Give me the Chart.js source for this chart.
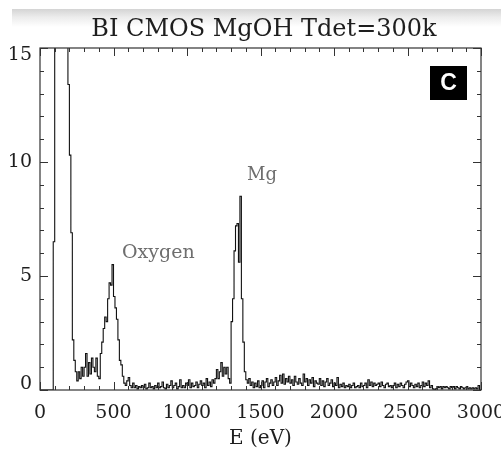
<!DOCTYPE html>
<html>
<head>
<meta charset="utf-8">
<script src="https://cdn.jsdelivr.net/npm/chart.js@4/dist/chart.umd.min.js"></script>
<style>
  html, body { margin: 0; padding: 0; background: #fff; }
  #chart { display: block; }
</style>
</head>
<body>
<canvas id="chart" width="501" height="451"></canvas>
<script>
// spectrum: counts per 10 eV bin, bin starts at 0, 10, 20 ... 2990 eV
const BIN_EV = 10;
const counts = [
  0, 0, 0, 0, 0, 0, 0, 0, 0, 6.5,                       // 0-90
  60, 60, 60, 60, 60, 60, 60, 60, 60, 13.4,             // 100-190
  10.3, 6.9, 2.2, 1.3, 0.8, 0.4, 0.8, 0.5, 1.0, 0.6,    // 200-290
  1.0, 1.6, 0.6, 1.2, 0.7, 1.4, 1.0, 0.8, 1.4, 0.6,     // 300-390
  0.5, 1.6, 2.1, 2.7, 3.2, 3.0, 4.0, 4.7, 4.6, 5.5,     // 400-490
  4.1, 3.6, 3.1, 2.2, 1.3, 1.1, 0.6, 0.3, 0.2, 0.4,     // 500-590
  0.55, 0.2, 0.1, 0.3, 0.1, 0.2, 0.05, 0.15, 0.1, 0.2,  // 600-690
  0.1, 0.25, 0.05, 0.1, 0.3, 0.1, 0.15, 0.05, 0.2, 0.1, // 700-790
  0.3, 0.1, 0.15, 0.35, 0.1, 0.05, 0.25, 0.1, 0.2, 0.4, // 800-890
  0.1, 0.2, 0.3, 0.05, 0.15, 0.45, 0.1, 0.2, 0.1, 0.3,  // 900-990
  0.2, 0.45, 0.1, 0.3, 0.15, 0.2, 0.35, 0.1, 0.25, 0.4, // 1000-1090
  0.2, 0.3, 0.1, 0.5, 0.2, 0.35, 0.15, 0.45, 0.3, 0.5,  // 1100-1190
  0.9, 0.5, 0.8, 1.2, 0.6, 1.0, 0.7, 1.0, 0.5, 0.3,     // 1200-1290
  3.0, 4.0, 6.1, 7.2, 7.3, 5.6, 8.5, 4.0, 2.1, 0.8,     // 1300-1390
  0.45, 0.3, 0.5, 0.2, 0.35, 0.1, 0.3, 0.15, 0.4, 0.1,  // 1400-1490
  0.2, 0.4, 0.1, 0.35, 0.5, 0.15, 0.3, 0.45, 0.2, 0.35, // 1500-1590
  0.55, 0.2, 0.4, 0.65, 0.3, 0.7, 0.25, 0.5, 0.35, 0.6, // 1600-1690
  0.3, 0.45, 0.2, 0.6, 0.35, 0.25, 0.5, 0.3, 0.2, 0.7,  // 1700-1790
  0.35, 0.5, 0.2, 0.45, 0.3, 0.55, 0.15, 0.4, 0.3, 0.25,// 1800-1890
  0.5, 0.2, 0.4, 0.15, 0.35, 0.5, 0.2, 0.3, 0.45, 0.15, // 1900-1990
  0.3, 0.2, 0.55, 0.1, 0.25, 0.15, 0.3, 0.1, 0.2, 0.15, // 2000-2090
  0.25, 0.1, 0.2, 0.3, 0.1, 0.15, 0.2, 0.1, 0.3, 0.15,  // 2100-2190
  0.2, 0.3, 0.1, 0.45, 0.2, 0.35, 0.15, 0.3, 0.2, 0.25, // 2200-2290
  0.3, 0.15, 0.35, 0.2, 0.1, 0.25, 0.3, 0.15, 0.2, 0.1, // 2300-2390
  0.2, 0.3, 0.1, 0.25, 0.15, 0.3, 0.2, 0.1, 0.25, 0.35, // 2400-2490
  0.4, 0.15, 0.3, 0.2, 0.1, 0.25, 0.15, 0.3, 0.1, 0.2,  // 2500-2590
  0.35, 0.15, 0.3, 0.2, 0.4, 0.1, 0.2, 0.05, 0, 0.05,   // 2600-2690
  0.15, 0.1, 0.15, 0.05, 0.15, 0.1, 0.15, 0.1, 0.05, 0.15, // 2700-2790
  0.1, 0.15, 0.05, 0.15, 0.1, 0.05, 0.15, 0.1, 0.05, 0.1,  // 2800-2890
  0.15, 0.05, 0.1, 0.05, 0.1, 0.05, 0.1, 0.05, 0.2, 0      // 2900-2990
];

const xRange = [0, 3000];
const yRange = [0, 15];
const xTickStep = 500, xMinorStep = 100;
const yTickLabels = [0, 5, 10, 15];
const yTickStep = 5, yMinorStep = 1;

const titleText = "BI CMOS MgOH Tdet=300k";
const xTitle = "E (eV)";

const peakLabels = ["Oxygen", "Mg"];
const peakAnchorE = [558, 1408];    // eV, left edge of text
const peakAnchorY = [5.8, 9.2];     // counts, text baseline

const panelTag = "C";

// step histogram points (one extra point closes the last bin)
const points = counts.map(function (c, i) { return { x: i * BIN_EV, y: c }; });
points.push({ x: counts.length * BIN_EV, y: counts[counts.length - 1] });

const SERIF = "'DejaVu Serif', 'Liberation Serif', serif";
const INK = "#1e1e1e";

const decor = {
    id: "decor",
    beforeDraw: function (chart) {
        const ctx = chart.ctx;
        const g = ctx.createLinearGradient(0, 9, 0, 27);
        g.addColorStop(0, "#d4d4d4");
        g.addColorStop(0.45, "#ececec");
        g.addColorStop(1, "#ffffff");
        ctx.save();
        ctx.fillStyle = g;
        ctx.fillRect(12, 9, chart.width - 12, 18);

        // title
        ctx.fillStyle = INK;
        ctx.font = "24px " + SERIF;
        ctx.textAlign = "center";
        ctx.textBaseline = "alphabetic";
        ctx.fillText(titleText, 264, 36);
        ctx.restore();
    },
    afterDraw: function (chart) {
        const ctx = chart.ctx;
        const a = chart.chartArea;
        const xs = chart.scales.x, ys = chart.scales.y;
        ctx.save();
        ctx.strokeStyle = "#333";
        ctx.lineWidth = 1.2;
        ctx.strokeRect(a.left, a.top, a.right - a.left, a.bottom - a.top);

        ctx.lineWidth = 1;
        ctx.beginPath();
        for (let v = xRange[0]; v <= xRange[1]; v += xMinorStep) {
            const px = Math.round(xs.getPixelForValue(v)) + 0.5;
            const len = v % xTickStep === 0 ? 8 : 4;
            ctx.moveTo(px, a.bottom); ctx.lineTo(px, a.bottom - len);
            ctx.moveTo(px, a.top); ctx.lineTo(px, a.top + len);
        }
        for (let v = yRange[0]; v <= yRange[1]; v += yMinorStep) {
            const py = Math.round(ys.getPixelForValue(v)) + 0.5;
            const len = v % yTickStep === 0 ? 8 : 4;
            ctx.moveTo(a.left, py); ctx.lineTo(a.left + len, py);
            ctx.moveTo(a.right, py); ctx.lineTo(a.right - len, py);
        }
        ctx.stroke();

        // y tick labels, kept inside the frame height like the original
        ctx.fillStyle = INK;
        ctx.font = "19px " + SERIF;
        ctx.textAlign = "right";
        ctx.textBaseline = "middle";
        yTickLabels.forEach(function (v) {
            let py = ys.getPixelForValue(v);
            py = Math.min(Math.max(py, a.top + 7), a.bottom - 6);
            ctx.fillText(String(v), a.left - 8, py);
        });

        // peak names
        ctx.fillStyle = "#6e6e6e";
        ctx.textBaseline = "alphabetic";
        ctx.textAlign = "left";
        peakLabels.forEach(function (t, i) {
            ctx.font = (i === 0 ? 19 : 18) + "px " + SERIF;
            ctx.fillText(t, xs.getPixelForValue(peakAnchorE[i]), ys.getPixelForValue(peakAnchorY[i]));
        });

        // panel tag
        const bx = a.right - 51, by = a.top + 18;
        ctx.fillStyle = "#000";
        ctx.fillRect(bx, by, 37, 34);
        ctx.fillStyle = "#fff";
        ctx.font = "bold 23px 'Liberation Sans', Arial, sans-serif";
        ctx.textAlign = "center";
        ctx.textBaseline = "middle";
        ctx.fillText(panelTag, bx + 18.5, by + 18);
        ctx.restore();
    }
};

new Chart(document.getElementById("chart"), {
    type: "line",
    data: {
        datasets: [{
            data: points,
            stepped: true,
            borderColor: "#111",
            borderWidth: 1.1,
            pointRadius: 0,
            fill: false
        }]
    },
    options: {
        responsive: false,
        animation: false,
        layout: { padding: { left: 0, right: 20, top: 48, bottom: 0 } },
        plugins: {
            legend: { display: false },
            tooltip: { enabled: false },
            title: { display: false }
        },
        scales: {
            x: {
                type: "linear",
                min: xRange[0],
                max: xRange[1],
                grid: { display: false, drawTicks: false },
                border: { display: false },
                ticks: {
                    stepSize: xTickStep,
                    autoSkip: false,
                    maxRotation: 0,
                    padding: 12,
                    color: INK,
                    font: { family: SERIF, size: 19 },
                    callback: function (v) { return String(v); }
                },
                title: {
                    display: true,
                    text: xTitle,
                    color: INK,
                    font: { family: SERIF, size: 20 },
                    padding: 0
                },
                afterFit: function (s) { s.height = 61; s.paddingLeft = 0; s.paddingRight = 0; }
            },
            y: {
                min: yRange[0],
                max: yRange[1],
                grid: { display: false, drawTicks: false },
                border: { display: false },
                ticks: {
                    stepSize: yTickStep,
                    display: false
                },
                afterFit: function (s) { s.width = 40; s.paddingTop = 0; s.paddingBottom = 0; }
            }
        }
    },
    plugins: [decor]
});
</script>
</body>
</html>
